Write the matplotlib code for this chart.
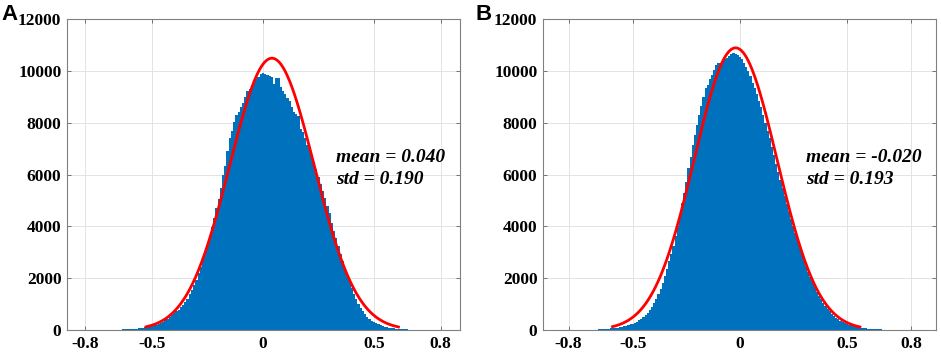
import numpy as np
import matplotlib.pyplot as plt

# histogram counts, bin width 0.01
bin_w = 0.01
a_first = -0.72
a_counts = [3, 4, 5, 6, 8, 9, 11, 13, 16, 19, 23, 27, 32, 38, 45, 52, 61, 71, 83, 97,
            112, 130, 150, 175, 205, 240, 280, 325, 375, 430, 500, 570, 650, 720, 790, 870,
            960, 1080, 1210, 1380, 1560, 1750, 1950, 2200, 2450, 2720, 3000, 3300, 3640,
            3980, 4330, 4700, 5050, 5480, 5980, 6350, 6900, 7400, 7700, 8050, 8300, 8420,
            8600, 8750, 9000, 9250, 9300, 9480, 9600, 9700, 9780, 9880, 9930, 9870, 9850,
            9820, 9780, 9500, 9720, 9750, 9380, 9250, 9100, 8950, 8850, 8600, 8420, 8350,
            8280, 7750, 7650, 7400, 7150, 6950, 6700, 6480, 6200, 5900, 5650, 5350, 5080,
            4800, 4500, 4150, 3820, 3550, 3250, 2950, 2650, 2380, 2120, 1870, 1620, 1400,
            1180, 1000, 850, 720, 600, 500, 420, 360, 300, 255, 215, 180, 150, 125, 105, 88,
            74, 62, 52, 44, 37, 31, 26, 22, 18, 15, 12, 10, 8, 6, 5, 4, 3, 2]

b_first = -0.76
b_counts = [2, 3, 4, 5, 6, 8, 10, 12, 15, 18, 22, 26, 31, 37, 44, 51, 60, 70, 82, 95,
            110, 128, 148, 170, 195, 225, 250, 285, 325, 375, 430, 500, 580, 670, 780, 900,
            1040, 1200, 1380, 1580, 1800, 2080, 2350, 2650, 2950, 3250, 3620, 4000, 4450,
            4900, 5300, 5700, 6250, 6700, 7150, 7550, 7900, 8300, 8650, 9000, 9350, 9450,
            9700, 9850, 10050, 10250, 10300, 10330, 10380, 10450, 10520, 10600, 10680, 10700,
            10650, 10620, 10560, 10450, 10300, 10150, 10000, 9800, 9550, 9350, 9100, 8850,
            8600, 8300, 8000, 7700, 7400, 7080, 6750, 6420, 6100, 5780, 5480, 5170, 4870,
            4580, 4290, 4000, 3730, 3460, 3200, 2950, 2700, 2470, 2250, 2040, 1840, 1650,
            1480, 1320, 1180, 1050, 930, 820, 720, 630, 550, 480, 420, 365, 318, 276, 240,
            208, 180, 156, 135, 117, 101, 87, 75, 65, 56, 48, 41, 35, 30, 25, 21, 18, 15,
            12, 10, 8, 6, 5, 4, 3]

# normal fit shown in red: mean, std, peak height, drawn range
a_fit = dict(mean=0.040, std=0.190, peak=10500, lo=-0.527, hi=0.61)
b_fit = dict(mean=-0.020, std=0.193, peak=10900, lo=-0.595, hi=0.561)

xticks = [-0.8, -0.5, 0, 0.5, 0.8]
xtick_labels = ['-0.8', '-0.5', '0', '0.5', '0.8']
yticks = [0, 2000, 4000, 6000, 8000, 10000, 12000]

plt.rcParams['font.family'] = ['Liberation Serif', 'DejaVu Serif']
plt.rcParams['font.weight'] = 'bold'

fig = plt.figure(figsize=(9.41, 3.53), dpi=100)
ax_a = fig.add_axes([0.0712, 0.0652, 0.4176, 0.880])
ax_b = fig.add_axes([0.577, 0.0652, 0.4176, 0.880])


def draw(ax, first, counts, fit, xlim, text_x):
    edges = first - bin_w / 2 + bin_w * np.arange(len(counts) + 1)
    ax.stairs(counts, edges, fill=True, color='#0072BD', lw=0, zorder=2)
    xs = np.linspace(fit['lo'], fit['hi'], 300)
    ys = fit['peak'] * np.exp(-0.5 * ((xs - fit['mean']) / fit['std']) ** 2)
    ax.plot(xs, ys, color='#FF0000', lw=2.0, zorder=3)
    ax.set_xlim(*xlim)
    ax.set_ylim(0, 12000)
    ax.set_xticks(xticks)
    ax.set_xticklabels(xtick_labels)
    ax.set_yticks(yticks)
    ax.tick_params(direction='in', length=3, width=0.6, color='#606060',
                   labelsize=12.5, top=True, right=True, pad=4)
    for lab in ax.get_xticklabels() + ax.get_yticklabels():
        lab.set_fontweight('bold')
    ax.grid(True, color='#e3e3e3', lw=0.7, zorder=0)
    ax.set_axisbelow(True)
    for s in ax.spines.values():
        s.set_color('#808080')
        s.set_linewidth(0.8)
    ax.text(text_x, 6480, 'mean = %.3f' % fit['mean'], fontsize=14,
            fontstyle='italic', fontweight='bold')
    ax.text(text_x, 5650, 'std = %.3f' % fit['std'], fontsize=14,
            fontstyle='italic', fontweight='bold')


draw(ax_a, a_first, a_counts, a_fit, (-0.883, 0.887), 0.329)
draw(ax_b, b_first, b_counts, b_fit, (-0.92, 0.916), 0.31)

fig.text(0.001, 0.99, 'A', fontsize=16, fontweight='bold', va='top',
         family=['Liberation Sans', 'DejaVu Sans'])
fig.text(0.505, 0.99, 'B', fontsize=16, fontweight='bold', va='top',
         family=['Liberation Sans', 'DejaVu Sans'])

fig.savefig('out.png', dpi=100)
